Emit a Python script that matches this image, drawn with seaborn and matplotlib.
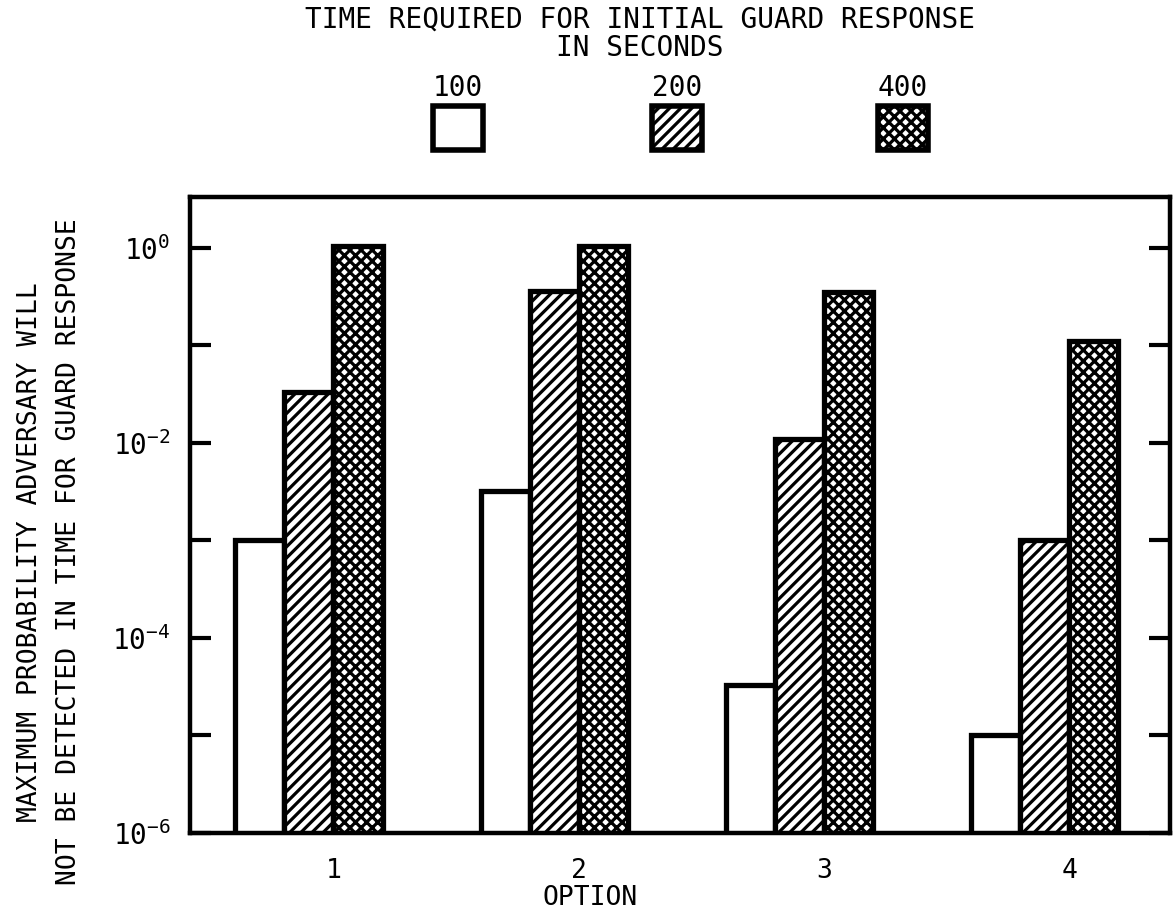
import numpy as np
import pandas as pd
import matplotlib
matplotlib.use('Agg')
import matplotlib.pyplot as plt
import seaborn as sns
from matplotlib.patches import Rectangle
from matplotlib.ticker import FixedLocator, FuncFormatter

# values
options = ['1', '2', '3', '4']
times = ['100', '200', '400']
p_100 = [1.0e-3, 3.2e-3, 3.3e-5, 1.0e-5]
p_200 = [0.033, 0.36, 0.011, 1.0e-3]
p_400 = [1.05, 1.05, 0.35, 0.11]
hatches = ['', '///', 'xxx']

df = pd.DataFrame({
    'option': options * 3,
    'time': [t for t in times for _ in options],
    'p': p_100 + p_200 + p_400,
})

sns.set_style('ticks', {'axes.edgecolor': 'black', 'text.color': 'black',
                        'xtick.color': 'black', 'ytick.color': 'black'})
plt.rcParams['font.family'] = ['DejaVu Sans Mono', 'DejaVu Sans']
plt.rcParams['hatch.linewidth'] = 2.3
plt.rcParams['hatch.color'] = 'black'

fig = plt.figure(figsize=(11.75, 9.16), dpi=100)
ax = fig.add_axes([0.1617, 0.0906, 0.834, 0.6944])
ax.set_yscale('log')

sns.barplot(data=df, x='option', y='p', hue='time', order=options, hue_order=times,
            width=0.6, color='white', edgecolor='black', linewidth=3.8,
            legend=False, ax=ax)
for cont, h in zip(ax.containers, hatches):
    for bar in cont:
        bar.set_facecolor('white')
        bar.set_hatch(h)

ax.set_ylim(1e-6, 3.33)
ax.set_xlim(-0.485, 3.51)
for s in ax.spines.values():
    s.set_visible(True)
    s.set_linewidth(3.2)

ax.yaxis.set_major_locator(FixedLocator([10.0 ** e for e in range(-6, 1)]))
ax.yaxis.set_minor_locator(FixedLocator([]))
ax.yaxis.set_major_formatter(FuncFormatter(
    lambda v, p: r'$\mathregular{10^{%d}}$' % round(np.log10(v)) if round(np.log10(v)) % 2 == 0 else ''))
ax.tick_params(axis='y', which='major', direction='in', left=True, right=True,
               length=15, width=3, labelsize=20, pad=14)
ax.set_xticks([i + 0.1 for i in range(len(options))])
ax.set_xticklabels(options)
ax.tick_params(axis='x', length=0, labelsize=19, pad=18)
ax.set_xlabel('')
ax.set_ylabel('')

fig.text(590 / 1175, 1 - 898 / 916, 'OPTION', ha='center', va='center', fontsize=19)
fig.text(50 / 1175, 1 - 552 / 916,
         'MAXIMUM PROBABILITY ADVERSARY WILL\nNOT BE DETECTED IN TIME FOR GUARD RESPONSE',
         rotation=90, ha='center', va='center', multialignment='center',
         fontsize=19, linespacing=1.65)

# legend drawn by hand: labels above the boxes
fig.text(640 / 1175, 1 - 6 / 916, 'TIME REQUIRED FOR INITIAL GUARD RESPONSE\nIN SECONDS',
         ha='center', va='top', multialignment='center', fontsize=20, linespacing=1.0)
box_x = [433, 652, 878]
for t, h, bx in zip(times, hatches, box_x):
    fig.add_artist(Rectangle((bx / 1175, 1 - 150 / 916), 50 / 1175, 44 / 916,
                             transform=fig.transFigure, facecolor='white',
                             edgecolor='black', linewidth=4, hatch=h))
    fig.text((bx + 25) / 1175, 1 - 88 / 916, t, ha='center', va='center', fontsize=20)

plt.savefig('out.png', dpi=100)
